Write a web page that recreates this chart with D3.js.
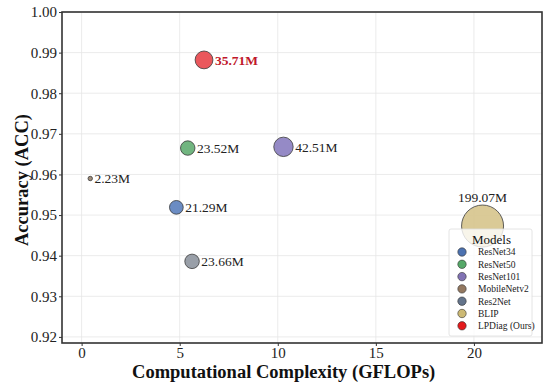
<!DOCTYPE html>
<html>
<head>
<meta charset="utf-8">
<script src="https://cdn.jsdelivr.net/npm/d3@7"></script>
<style>
  body { margin: 0; background: #fff; }
  svg { display: block; font-family: "Liberation Serif", "Times New Roman", serif; }
</style>
</head>
<body>
<div id="chart"></div>
<script>
const models = ['ResNet34', 'ResNet50', 'ResNet101', 'MobileNetv2', 'Res2Net', 'BLIP', 'LPDiag (Ours)'];
const gflops = [4.83, 5.41, 10.29, 0.44, 5.63, 20.44, 6.24];
const accuracy = [0.9519, 0.9665, 0.9668, 0.9590, 0.9386, 0.9473, 0.9882];
const params = [21.29, 23.52, 42.51, 2.23, 23.66, 199.07, 35.71];
const labels = ['21.29M', '23.52M', '42.51M', '2.23M', '23.66M', '199.07M', '35.71M'];
const colors = ['#5b7fbd', '#62ad72', '#8a7dc0', '#97826c', '#8e959f', '#d6c48c', '#e8454a'];
const legendColors = ['#4c72b0', '#55a868', '#8172b3', '#937860', '#64748b', '#ccb974', '#e41a1c'];
const xTicks = [0, 5, 10, 15, 20];
const yTicks = [0.92, 0.93, 0.94, 0.95, 0.96, 0.97, 0.98, 0.99, 1.00];

const data = models.map((m, i) => ({
  model: m, x: gflops[i], y: accuracy[i], p: params[i], label: labels[i],
  color: colors[i], ours: i === models.length - 1
}));

const width = 550, height = 385;
const margin = { top: 12, right: 8, bottom: 42, left: 62 };
const w = width - margin.left - margin.right;
const h = height - margin.top - margin.bottom;

const svg = d3.select('#chart').append('svg')
  .attr('width', width)
  .attr('height', height);

const g = svg.append('g')
  .attr('transform', `translate(${margin.left},${margin.top})`);

const x = d3.scaleLinear().domain([-1, 23.47]).range([0, w]);
const y = d3.scaleLinear().domain([0.9185, 1.0]).range([h, 0]);
const r = d3.scaleSqrt().domain([0, 199.07]).range([0, 21]);

// grid
g.append('g').selectAll('line')
  .data(xTicks)
  .join('line')
  .attr('x1', d => x(d)).attr('x2', d => x(d))
  .attr('y1', 0).attr('y2', h)
  .attr('stroke', '#e6e6e6').attr('stroke-width', 0.8);
g.append('g').selectAll('line')
  .data(yTicks)
  .join('line')
  .attr('x1', 0).attr('x2', w)
  .attr('y1', d => y(d)).attr('y2', d => y(d))
  .attr('stroke', '#e6e6e6').attr('stroke-width', 0.8);

// axes
const xAxis = g.append('g')
  .attr('transform', `translate(0,${h})`)
  .call(d3.axisBottom(x).tickValues(xTicks).tickSize(3).tickPadding(1));
const yAxis = g.append('g')
  .call(d3.axisLeft(y).tickValues(yTicks).tickFormat(d3.format('.2f')).tickSize(3).tickPadding(2));
[xAxis, yAxis].forEach(a => {
  a.attr('font-family', null).attr('font-size', null);
  a.select('.domain').remove();
  a.selectAll('text').style('font-size', '15px').style('fill', '#222');
  a.selectAll('line').attr('stroke', '#333');
});

// frame
g.append('rect')
  .attr('width', w).attr('height', h)
  .attr('fill', 'none')
  .attr('stroke', '#333').attr('stroke-width', 1.6);

// points
g.append('g').selectAll('circle')
  .data(data)
  .join('circle')
  .attr('cx', d => x(d.x))
  .attr('cy', d => y(d.y))
  .attr('r', d => r(d.p))
  .attr('fill', d => d.color)
  .attr('fill-opacity', 0.9)
  .attr('stroke', '#3a3a3a')
  .attr('stroke-opacity', 0.8)
  .attr('stroke-width', 1);

// point labels
g.append('g').selectAll('text')
  .data(data)
  .join('text')
  .attr('x', d => d.model === 'BLIP' ? x(d.x) : x(d.x) + r(d.p) + 2)
  .attr('y', d => d.model === 'BLIP' ? y(d.y) - r(d.p) - 3 : y(d.y))
  .attr('dy', d => d.model === 'BLIP' ? 0 : '0.35em')
  .attr('text-anchor', d => d.model === 'BLIP' ? 'middle' : 'start')
  .style('font-size', '13.5px')
  .style('font-weight', d => d.ours ? 'bold' : 'normal')
  .style('fill', d => d.ours ? '#c0172a' : '#222')
  .text(d => d.label);

// axis titles
svg.append('text')
  .attr('x', margin.left + x(10.3))
  .attr('y', 378)
  .attr('text-anchor', 'middle')
  .style('font-size', '18.5px')
  .style('font-weight', 'bold')
  .style('fill', '#111')
  .text('Computational Complexity (GFLOPs)');

svg.append('text')
  .attr('transform', 'translate(28,180) rotate(-90)')
  .attr('text-anchor', 'middle')
  .style('font-size', '18.5px')
  .style('font-weight', 'bold')
  .style('fill', '#111')
  .text('Accuracy (ACC)');

// legend
const lx = 449, ly = 229, lw = 83, lh = 107;
const legend = svg.append('g');
legend.append('rect')
  .attr('x', lx).attr('y', ly).attr('width', lw).attr('height', lh)
  .attr('rx', 2)
  .attr('fill', '#fff').attr('fill-opacity', 0.8)
  .attr('stroke', '#ddd').attr('stroke-width', 0.8);
legend.append('text')
  .attr('x', lx + lw / 2 + 1).attr('y', ly + 15)
  .attr('text-anchor', 'middle')
  .style('font-size', '13px').style('fill', '#111')
  .text('Models');
const items = legend.selectAll('g.item')
  .data(models)
  .join('g')
  .attr('class', 'item')
  .attr('transform', (d, i) => `translate(${lx + 13},${ly + 23 + i * 12.3})`);
items.append('circle')
  .attr('r', 4.2)
  .attr('fill', (d, i) => legendColors[i])
  .attr('stroke', '#333').attr('stroke-width', 0.6);
items.append('text')
  .attr('x', 16).attr('dy', '0.35em')
  .style('font-size', '9.5px').style('fill', '#222')
  .text(d => d);
</script>
</body>
</html>
